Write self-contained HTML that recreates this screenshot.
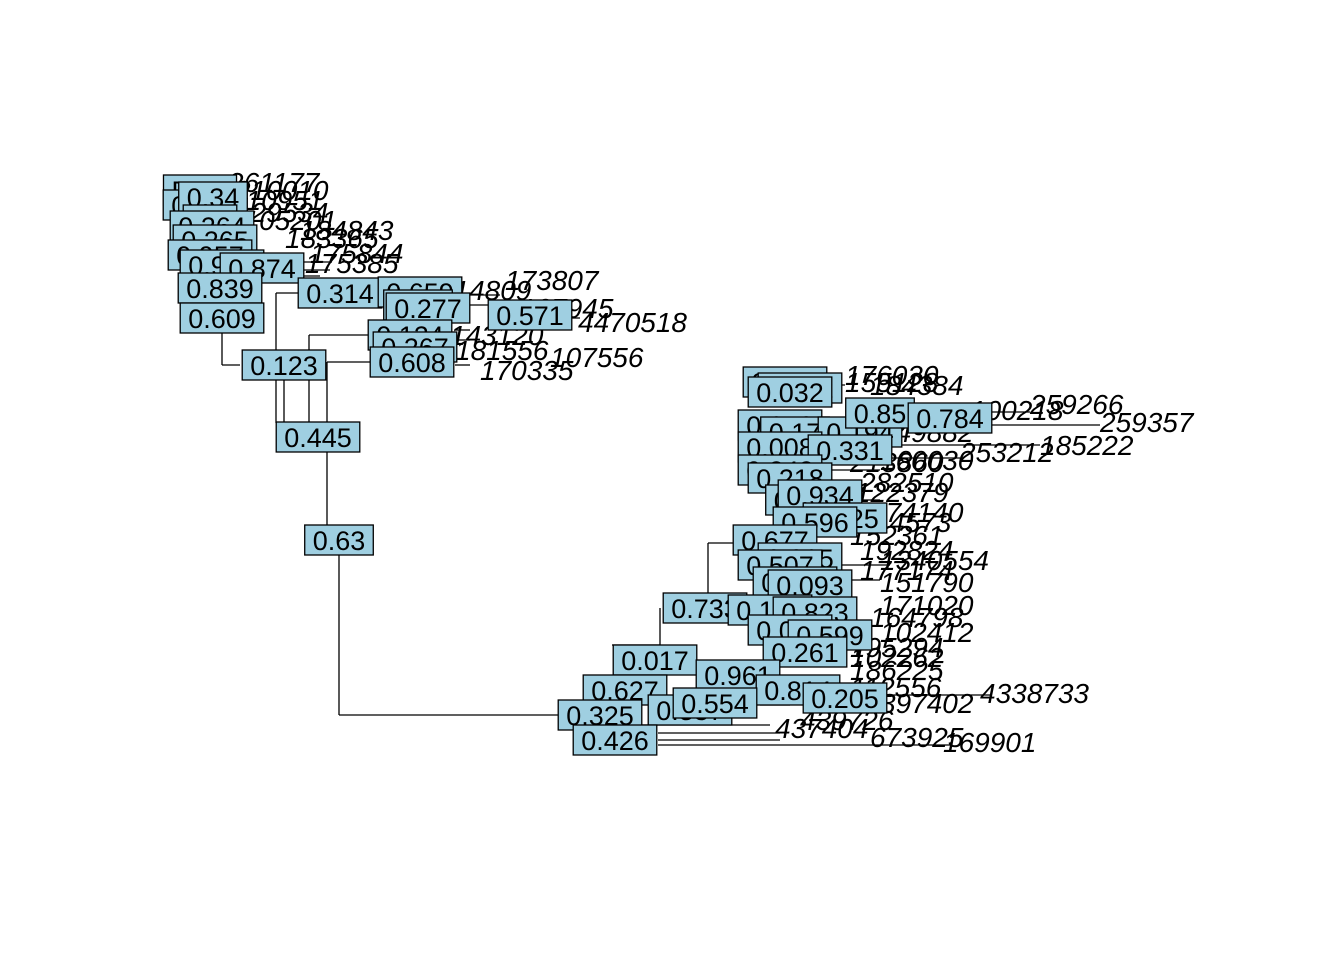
<!DOCTYPE html>
<html><head><meta charset="utf-8">
<style>
html,body{margin:0;padding:0;background:#fff;}
svg{display:block;}
text{font-family:"Liberation Sans",Arial,sans-serif;}
</style></head>
<body>
<svg id="chart" width="1344" height="960" viewBox="0 0 1344 960" xmlns="http://www.w3.org/2000/svg">
<g id="edges" stroke="#000" stroke-width="1.3" fill="none"></g>
<g id="tips"></g>
<g id="nodes"></g>
</svg>
<script>
// Branch segments [x1,y1,x2,y2]
const branchSegs = [
 [339,555,339,715],[339,715,560,715],
 [327,362,327,525],[327,362,372,362],
 [309,335,309,423],[309,335,368,335],
 [276,293,276,423],[276,293,298,293],
 [222,332,222,365],[222,365,240,365],
 [284,380,284,423],
 [300,262,330,262],[300,270,330,270],[300,276,320,276],
 [455,330,470,330],[440,295,500,295],[455,305,490,305],[455,340,470,340],
 [455,365,470,365],[570,318,580,318],
 [660,608,660,645],[708,543,708,595],[708,543,735,543],
 [660,645,612,645],[658,740,780,740],[658,733,780,733],[658,745,950,745],
 [620,725,770,725],[760,705,790,705],
 [825,385,845,385],[915,412,1030,412],[990,425,1100,425],[880,445,1040,445],
 [875,458,960,458],[830,470,880,470],[830,580,880,580],[830,565,890,565],
 [880,500,860,500],[860,695,990,695]
];
// Node support labels
const nodeText = ["Root","0.325","0.34","0.7","0.264","0.265","0.957","0.959","0.874","0.839","0.609","0.123","0.445","0.63","0.314","0.659","0.92","0.277","0.571","0.124","0.267","0.608",
 "0.065","0.242","0.032","0.319","0.17","0.194","0.85","0.784","0.008","0.331","0.343","0.218","0.47","0.934","0.325","0.596","0.677","0.025","0.507","0.663","0.093","0.733","0.166","0.823","0.099","0.599","0.261","0.017","0.961","0.627","0.814","0.205","0.325","0.837","0.554","0.426"];
const nodeX = [200,205,213,210,212,215,210,222,262,220,222,284,318,339,340,420,418,428,530,410,415,412,
 785,800,790,780,795,860,880,950,780,850,780,790,800,820,845,815,775,800,780,795,810,705,770,815,790,830,805,655,738,625,798,845,600,690,715,615];
const nodeY = [190,205,197,220,226,240,255,265,268,288,318,365,437,540,293,292,305,308,315,335,347,362,
 382,388,392,425,432,432,413,418,447,450,470,478,500,495,518,522,540,558,565,582,585,608,610,612,630,635,652,660,675,690,690,698,715,710,703,740];
// Tip labels
const tipText = ["261177","210010","310951","129534","1105201","184843","183365","175844","175385","173807","114809","107945","4470518","143120","181556","107556","170335",
 "176030","155128","184384","259266","259357","100218","249882","185222","253212","160030","213860","282510","122379","174140","114573","152361","192824","1340554","177174","151790","171020","164798","102412","195294","102262","186225","112556","4338733","397402","439726","437404","673925","169901"];
const tipX = [228,235,230,235,230,300,285,310,305,505,440,520,578,450,455,550,480,
 845,845,870,1030,1100,970,880,1040,960,880,850,860,855,870,860,850,860,880,860,880,880,870,880,850,850,850,850,980,880,800,775,870,943];
const tipY = [192,200,210,222,230,240,248,263,273,290,300,318,332,345,360,367,380,
 385,392,395,414,432,420,442,455,462,470,472,492,502,522,532,545,560,570,580,592,615,627,642,657,667,680,697,703,713,730,738,747,752];

const NS="http://www.w3.org/2000/svg";
const eg=document.getElementById('edges');
branchSegs.forEach(s=>{
  const l=document.createElementNS(NS,'line');
  l.setAttribute('x1',s[0]);l.setAttribute('y1',s[1]);l.setAttribute('x2',s[2]);l.setAttribute('y2',s[3]);
  
  
  eg.appendChild(l);
});
const tg=document.getElementById('tips');
tipText.forEach((t,i)=>{
  const e=document.createElementNS(NS,'text');
  e.setAttribute('x',tipX[i]);e.setAttribute('y',tipY[i]);
  e.setAttribute('font-size','28');e.setAttribute('font-style','italic');
  e.textContent=t;
  
  
  tg.appendChild(e);
});
const ng=document.getElementById('nodes');
nodeText.forEach((t,i)=>{
  const g=document.createElementNS(NS,'g');
  
  
  const r=document.createElementNS(NS,'rect');
  const e=document.createElementNS(NS,'text');
  e.setAttribute('x',nodeX[i]);e.setAttribute('y',nodeY[i]+10);
  e.setAttribute('font-size','27');e.setAttribute('text-anchor','middle');
  e.textContent=t;
  g.appendChild(r);g.appendChild(e);ng.appendChild(g);
  const w=e.getComputedTextLength()+16;
  r.setAttribute('x',nodeX[i]-w/2);r.setAttribute('y',nodeY[i]-15);
  r.setAttribute('width',w);r.setAttribute('height',30);
  r.setAttribute('fill','#9fcfe1');r.setAttribute('stroke','#000');r.setAttribute('stroke-width','1.3');
});
</script>
</body></html>
